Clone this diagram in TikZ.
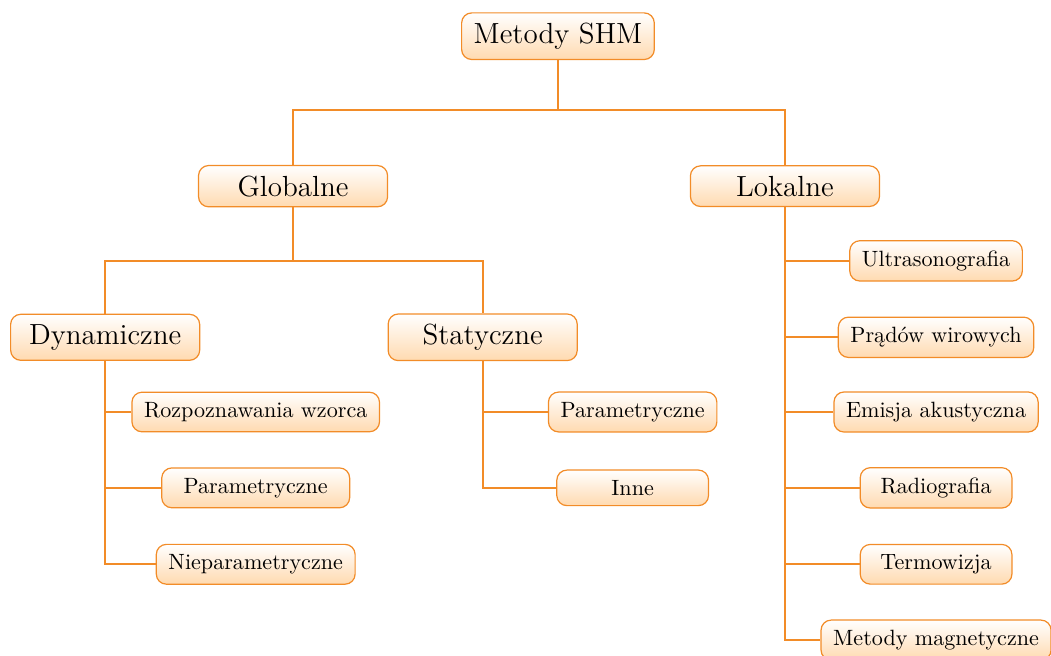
\documentclass[11pt,tikz,border=0pt]{standalone}
\usepackage{fontspec}
\usepackage{xcolor}
\definecolor{shmline}{RGB}{242,140,40}
\definecolor{shmfill}{RGB}{255,218,176}

\begin{document}
\begin{tikzpicture}
        \tikzset{box/.style = {draw=shmline, line width=0.6pt, rounded corners=5pt, top color=white, bottom color=shmfill, inner xsep=6pt, inner ysep=5pt}}
        \tikzset{group/.style = {box, font=\Large, minimum width=3.29cm}}
        \tikzset{leaf/.style = {box, minimum width=2.64cm}}
        \tikzset{edge/.style = {draw=shmline, line width=1pt}}
        \useasboundingbox (0,0) rectangle (18.29,11.40);
        % vertices
        \node[box, font=\Large] (shm) at (9.71,10.77) {Metody SHM};
        \node[group] (glob) at (5.10,8.16) {Globalne};
        \node[group] (lok)  at (13.66,8.16) {Lokalne};
        \node[group] (dyn)  at (1.83,5.53) {Dynamiczne};
        \node[group] (stat) at (8.40,5.53) {Statyczne};
        \node[leaf] (rozp)  at (4.45,4.23) {Rozpoznawania wzorca};
        \node[leaf, minimum width=3.27cm] (dpar) at (4.45,2.91) {Parametryczne};
        \node[leaf] (npar)  at (4.45,1.58) {Nieparametryczne};
        \node[leaf] (spar)  at (11.01,4.23) {Parametryczne};
        \node[leaf] (inne)  at (11.01,2.91) {Inne};
        \node[leaf] (ultra) at (16.29,6.86) {Ultrasonografia};
        \node[leaf] (wir)   at (16.29,5.53) {Prądów wirowych};
        \node[leaf] (emis)  at (16.29,4.23) {Emisja akustyczna};
        \node[leaf] (radio) at (16.29,2.91) {Radiografia};
        \node[leaf] (termo) at (16.29,1.58) {Termowizja};
        \node[leaf] (magn)  at (16.29,0.26) {Metody magnetyczne};
        \coordinate (j1) at (9.71,9.48);
        \coordinate (j2) at (5.10,6.86);
        %edges
        \draw[edge] (shm.south) -- (j1) -| (glob.north);
        \draw[edge] (j1) -| (lok.north);
        \draw[edge] (glob.south) -- (j2) -| (dyn.north);
        \draw[edge] (j2) -| (stat.north);
        \draw[edge] (dyn.south) |- (rozp.west);
        \draw[edge] (dyn.south) |- (dpar.west);
        \draw[edge] (dyn.south) |- (npar.west);
        \draw[edge] (stat.south) |- (spar.west);
        \draw[edge] (stat.south) |- (inne.west);
        \draw[edge] (lok.south) |- (ultra.west);
        \draw[edge] (lok.south) |- (wir.west);
        \draw[edge] (lok.south) |- (emis.west);
        \draw[edge] (lok.south) |- (radio.west);
        \draw[edge] (lok.south) |- (termo.west);
        \draw[edge] (lok.south) |- (magn.west);
\end{tikzpicture}
\end{document}
